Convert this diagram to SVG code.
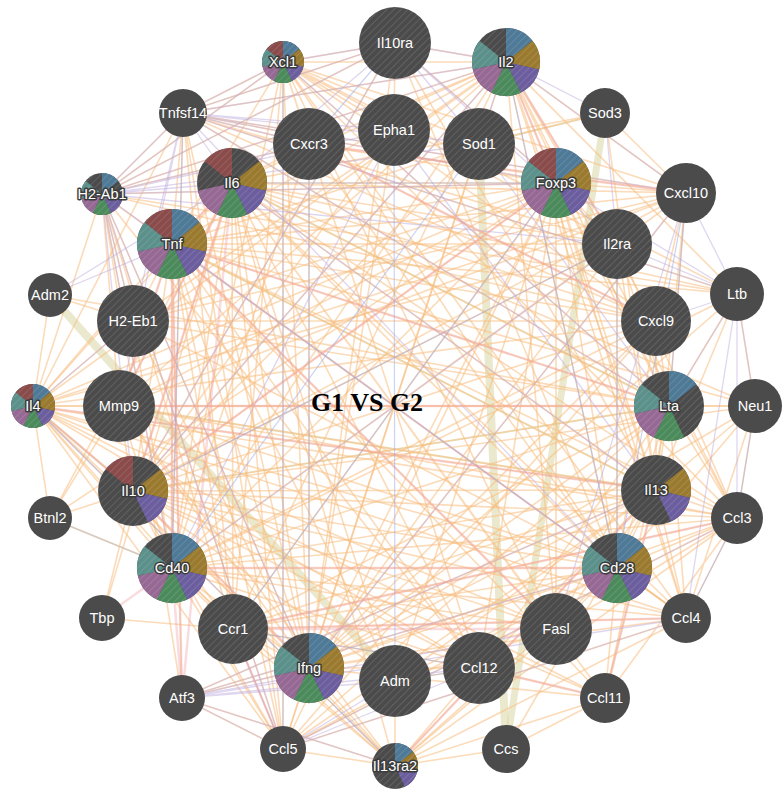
<svg xmlns="http://www.w3.org/2000/svg" xmlns:xlink="http://www.w3.org/1999/xlink" width="783" height="789" viewBox="0 0 783 789">
<style>
.n{fill:#4b4b4b}
.h{fill:url(#hatch)}
.c0{fill:#4f7a97}.c1{fill:#9a7a2e}.c2{fill:#6b5d9e}.c3{fill:#4b8a5b}.c4{fill:#966995}.c5{fill:#5c908b}.c6{fill:#8a4b4b}
.t{font-family:"Liberation Sans",Arial,sans-serif;font-size:14.5px;fill:#fff;text-anchor:middle}
.lp{stroke:#3c3c3c;stroke-width:3px;paint-order:stroke;stroke-linejoin:round}
.e{fill:none;stroke-linecap:round}
.o{stroke:#f7bd80;stroke-opacity:.55;stroke-width:1.6}
.p{stroke:#bfaee0;stroke-opacity:.5;stroke-width:1.3}
.k{stroke:#ef9ca4;stroke-opacity:.35;stroke-width:2.5}
.b{stroke:#9aa8ea;stroke-opacity:.5;stroke-width:1.2}
.y{stroke:#d8d39b;stroke-opacity:.5}
.g{stroke:#c4c4c4;stroke-opacity:.7;stroke-width:1.4}
</style>
<defs>
<pattern id="hatch" width="5" height="5" patternUnits="userSpaceOnUse" patternTransform="rotate(45)">
<line x1="0" y1="0" x2="0" y2="5" stroke="#ffffff" stroke-opacity=".24" stroke-width="1"/>
</pattern>
<path id="s0" d="M0 0L0 -1A1 1 0 0 1 0.78183 -0.62349Z"/>
<path id="s1" d="M0 0L0.78183 -0.62349A1 1 0 0 1 0.97493 0.22252Z"/>
<path id="s2" d="M0 0L0.97493 0.22252A1 1 0 0 1 0.43388 0.90097Z"/>
<path id="s3" d="M0 0L0.43388 0.90097A1 1 0 0 1 -0.43388 0.90097Z"/>
<path id="s4" d="M0 0L-0.43388 0.90097A1 1 0 0 1 -0.97493 0.22252Z"/>
<path id="s5" d="M0 0L-0.97493 0.22252A1 1 0 0 1 -0.78183 -0.62349Z"/>
<path id="s6" d="M0 0L-0.78183 -0.62349A1 1 0 0 1 0 -1Z"/>
</defs>
<rect width="783" height="789" fill="#ffffff"/>
<g id="connectors" class="e">
<path class="y" stroke-width="8" d="M50 295L395 681M479 144L506 749"/>
<path class="y" stroke-width="7" d="M605 113L506 749"/>
<path class="y" stroke-width="2" d="M479 144L605 113M33 406L133 491M119 406L656 490M232 183L669 406M133 491L669 406M172 244L656 490"/>
<path class="o" d="M172 244L232 183M172 244L506 62M172 244L556 183M172 244L309 668M172 244L133 491M172 244L172 568M172 244L617 568M172 244L669 406M172 244L33 406M172 244L656 490M172 244L737 294M172 244L656 321M172 244L686 193M172 244L737 518M172 244L686 618M172 244L283 749M172 244L479 668M172 244L556 629M172 244L119 406M172 244L617 244M172 244L233 629M172 244L133 321M172 244L183 113M172 244L182 698M172 244L479 144M172 244L605 698M172 244L755 406M172 244L395 681M172 244L283 62"/>
<path class="o" d="M232 183L506 62M232 183L556 183M232 183L309 668M232 183L133 491M232 183L172 568M232 183L617 568M232 183L669 406M232 183L33 406M232 183L656 490M232 183L737 518M232 183L686 618M232 183L283 749M232 183L656 321M232 183L686 193M232 183L119 406M232 183L605 698M232 183L395 681M232 183L395 766M232 183L233 629M232 183L556 629M232 183L605 113M232 183L617 244M232 183L479 668M232 183L737 294M232 183L755 406M232 183L50 518M232 183L102 618M232 183L309 144"/>
<path class="o" d="M506 62L556 183M506 62L309 668M506 62L133 491M506 62L172 568M506 62L617 568M506 62L33 406M506 62L656 490M506 62L617 244M506 62L669 406M506 62L556 629M506 62L309 144M506 62L283 62M506 62L183 113M506 62L102 194M506 62L283 749M506 62L233 629M506 62L686 618M506 62L737 518M506 62L656 321M506 62L395 43M506 62L119 406M506 62L686 193M506 62L133 321M506 62L737 294"/>
<path class="o" d="M556 183L309 668M556 183L133 491M556 183L172 568M556 183L617 568M556 183L33 406M556 183L656 490M556 183L617 244M556 183L669 406M556 183L556 629M556 183L309 144M556 183L233 629M556 183L102 194M556 183L183 113M556 183L283 749M556 183L119 406M556 183L133 321M556 183L395 43M556 183L50 518M556 183L737 518M556 183L686 618M556 183L686 193M556 183L479 668M556 183L395 681"/>
<path class="o" d="M309 668L133 491M309 668L172 568M309 668L617 568M309 668L669 406M309 668L33 406M309 668L656 490M309 668L656 321M309 668L686 193M309 668L737 518M309 668L686 618M309 668L283 749M309 668L479 668M309 668L233 629M309 668L309 144M309 668L556 629M309 668L283 62M309 668L102 194M309 668L133 321M309 668L617 244M309 668L737 294M309 668L755 406M309 668L183 113M309 668L395 766M309 668L119 406M309 668L182 698M309 668L395 43M309 668L479 144M309 668L394 130M309 668L605 698"/>
<path class="o" d="M133 491L172 568M133 491L617 568M133 491L669 406M133 491L33 406M133 491L656 490M133 491L737 518M133 491L686 618M133 491L283 749M133 491L656 321M133 491L686 193M133 491L617 244M133 491L556 629M133 491L119 406M133 491L50 518M133 491L102 618M133 491L479 668M133 491L605 698M133 491L395 43M133 491L395 766M133 491L395 681M133 491L755 406M133 491L233 629M133 491L479 144M133 491L394 130"/>
<path class="o" d="M172 568L617 568M172 568L669 406M172 568L33 406M172 568L656 490M172 568L556 629M172 568L283 749M172 568L737 518M172 568L686 618M172 568L686 193M172 568L617 244M172 568L102 194M172 568L133 321M172 568L183 113M172 568L737 294M172 568L283 62M172 568L233 629M172 568L479 668M172 568L50 518M172 568L119 406M172 568L656 321M172 568L309 144M172 568L395 766"/>
<path class="o" d="M617 568L669 406M617 568L33 406M617 568L656 490M617 568L556 629M617 568L617 244M617 568L283 62M617 568L283 749M617 568L737 518M617 568L133 321M617 568L309 144M617 568L233 629M617 568L395 766M617 568L605 698M617 568L395 43M617 568L119 406M617 568L686 618M617 568L656 321M617 568L755 406M617 568L395 681M617 568L182 698"/>
<path class="o" d="M669 406L33 406M669 406L656 490M669 406L737 294M669 406L183 113M669 406L755 406M669 406L737 518M669 406L686 618M669 406L283 749M669 406L656 321M669 406L686 193M669 406L556 629M669 406L479 668M669 406L133 321M669 406L233 629M669 406L50 295M669 406L617 244M669 406L283 62M669 406L605 698"/>
<path class="o" d="M33 406L656 490M33 406L395 766M33 406L605 698M33 406L479 668M33 406L283 749M33 406L686 193M33 406L556 629M33 406L102 194M33 406L133 321M33 406L119 406M33 406L233 629M33 406L737 518M33 406L686 618M33 406L617 244M33 406L50 518M33 406L50 295M33 406L183 113M33 406L755 406M33 406L656 321"/>
<path class="o" d="M656 490L395 766M656 490L605 698M656 490L479 668M656 490L656 321M656 490L686 193M656 490L737 518M656 490L686 618M656 490L283 749M656 490L119 406M656 490L556 629M656 490L233 629M656 490L755 406M656 490L617 244M656 490L395 681M656 490L506 749M656 490L395 43M656 490L605 113M656 490L737 294M656 490L182 698"/>
<path class="o" d="M283 62L737 518M283 62L686 618M283 62L283 749M283 62L656 321M283 62L686 193M283 62L233 629M283 62L309 144M283 62L395 43M283 62L183 113M283 62L102 194M283 62L479 144M283 62L394 130M283 62L737 294M283 62L617 244M283 62L556 629M283 62L479 668"/>
<path class="o" d="M102 194L133 321M102 194L183 113M102 194L283 749M102 194L656 321M102 194L686 618M102 194L395 43M102 194L309 144M102 194L233 629M102 194L119 406M102 194L737 294M102 194L182 698M102 194L479 668"/>
<path class="o" d="M395 766L605 698M395 766L479 668M395 766L283 749M395 766L119 406M395 766L395 681M395 766L686 618M395 766L506 749M395 766L233 629M395 766L556 629M395 766L182 698M395 766L737 518"/>
<path class="o" d="M737 518L686 618M737 518L283 749M686 618L283 749M737 518L233 629M283 749L233 629M656 321L686 193M656 321L309 144M686 193L309 144M605 698L479 668M479 668L233 629M737 294L183 113M737 294L755 406M119 406L737 518M119 406L686 193M556 629L737 518M394 130L395 43M755 406L737 518M755 406L686 618M605 698L737 518M395 681L479 668M656 321L283 749M686 618L233 629M182 698L283 749M617 244L737 518M183 113L309 144M183 113L395 43M133 321L656 321M133 321L686 193M605 113L686 193M605 113L479 144M50 295L133 321M50 518L119 406M102 618L233 629M395 681L556 629M506 749L605 698M183 113L617 244M183 113L656 321M183 113L686 193M183 113L283 749M183 113L233 629"/>
<path class="p" d="M102 194L183 113M102 194L283 62M102 194L232 183M102 194L395 43M102 194L309 144M102 194L394 130M102 194L479 144M102 194L506 62M102 194L172 244M102 194L556 183M102 194L172 568M102 194L133 491M102 194L133 321M102 194L309 668M102 194L283 749M102 194L617 568M102 194L617 244"/>
<path class="p" d="M183 113L283 62M183 113L395 43M183 113L506 62M183 113L394 130M183 113L479 144M183 113L556 183M183 113L309 144M183 113L737 294M183 113L232 183M183 113L133 321M183 113L669 406M183 113L686 193M183 113L617 568M183 113L119 406"/>
<path class="p" d="M182 698L309 668M182 698L395 681M182 698L283 749M182 698L395 766M182 698L479 668M182 698L617 568M182 698L556 629M182 698L656 490M182 698L686 618"/>
<path class="p" d="M737 294L686 193M737 294L669 406M737 294L737 518M737 294L686 618M737 294L617 244M737 294L755 406M737 294L656 321M737 294L556 183"/>
<path class="p" d="M395 43L506 62M395 43L479 144M395 43L556 183M395 43L617 244M395 43L133 491M395 43L232 183M395 43L283 62M283 749L233 629M283 749L737 518M283 749L686 618M283 749L479 668M283 749L395 681"/>
<path class="p" d="M50 295L232 183M50 295L172 244M506 62L605 113M506 62L686 193M506 62L479 144M232 183L656 490M172 244L617 568M133 491L506 62M309 668L686 193M172 568L617 244M33 406L133 321M283 62L669 406M686 193L556 629M605 113L617 244M479 144L669 406M394 130L656 490M394 130L172 568"/>
<path class="k" stroke-width="5" d="M119 406L669 406"/>
<path class="k" stroke-width="8" d="M102 618L172 568"/>
<path class="k" stroke-width="6" d="M182 698L172 568"/>
<path class="k" d="M182 698L232 183M182 698L172 244M232 183L172 244M133 491L33 406M172 244L669 406M232 183L133 491M506 62L617 244M506 62L556 183M309 668L133 491M172 568L617 568M656 490L395 766M33 406L656 490M233 629L737 518M233 629L283 749M605 698L479 668M556 629L172 244M309 144L656 321M309 144L686 193M233 629L556 629M232 183L119 406M172 244L119 406M233 629L686 618M172 244L172 568M556 183L133 491M656 490L605 698"/>
<path class="b" d="M395 43L309 144M395 681L479 668M232 183L556 183M506 62L617 568M309 668L309 144M669 406L686 193M737 518L686 618M283 62L283 749M133 491L617 244M172 568L183 113M479 668L233 629M33 406L395 766M617 244L617 568M755 406L737 518M394 130L395 681M479 144L172 568M556 183L233 629M686 193L617 568"/>
<path class="g" d="M50 518L172 568"/>
</g>
<g id="Il10ra" transform="translate(395 43)"><circle r="36" class="n"/><circle r="36" class="h"/><text class="t" y="5">Il10ra</text></g>
<g id="Xcl1" transform="translate(283 62)"><circle r="21" class="n"/><g transform="scale(21)"><use href="#s0" class="c0"/><use href="#s1" class="c1"/><use href="#s2" class="c2"/><use href="#s3" class="c3"/><use href="#s4" class="c4"/><use href="#s5" class="c5"/><use href="#s6" class="c6"/></g><circle r="21" class="h"/><text class="t lp" y="5">Xcl1</text></g>
<g id="Il2" transform="translate(506 62)"><circle r="34" class="n"/><g transform="scale(34)"><use href="#s0" class="c0"/><use href="#s1" class="c1"/><use href="#s2" class="c2"/><use href="#s3" class="c3"/><use href="#s4" class="c4"/><use href="#s5" class="c5"/></g><circle r="34" class="h"/><text class="t lp" y="5">Il2</text></g>
<g id="Epha1" transform="translate(394 130)"><circle r="36" class="n"/><circle r="36" class="h"/><text class="t" y="5">Epha1</text></g>
<g id="Cxcr3" transform="translate(309 144)"><circle r="36" class="n"/><circle r="36" class="h"/><text class="t" y="5">Cxcr3</text></g>
<g id="Sod1" transform="translate(479 144)"><circle r="36" class="n"/><circle r="36" class="h"/><text class="t" y="5">Sod1</text></g>
<g id="Sod3" transform="translate(605 113)"><circle r="25" class="n"/><text class="t" y="5">Sod3</text></g>
<g id="Tnfsf14" transform="translate(183 113)"><circle r="24" class="n"/><text class="t" y="5">Tnfsf14</text></g>
<g id="H2-Ab1" transform="translate(102 194)"><circle r="21" class="n"/><g transform="scale(21)"><use href="#s0" class="c0"/><use href="#s2" class="c2"/><use href="#s3" class="c3"/><use href="#s4" class="c4"/><use href="#s5" class="c5"/></g><circle r="21" class="h"/><text class="t lp" y="5">H2-Ab1</text></g>
<g id="Il6" transform="translate(232 183)"><circle r="35" class="n"/><g transform="scale(35)"><use href="#s1" class="c1"/><use href="#s2" class="c2"/><use href="#s3" class="c3"/><use href="#s4" class="c4"/><use href="#s6" class="c6"/></g><circle r="35" class="h"/><text class="t lp" y="5">Il6</text></g>
<g id="Tnf" transform="translate(172 244)"><circle r="35" class="n"/><g transform="scale(35)"><use href="#s0" class="c0"/><use href="#s1" class="c1"/><use href="#s2" class="c2"/><use href="#s3" class="c3"/><use href="#s4" class="c4"/><use href="#s5" class="c5"/><use href="#s6" class="c6"/></g><circle r="35" class="h"/><text class="t lp" y="5">Tnf</text></g>
<g id="Adm2" transform="translate(50 295)"><circle r="22" class="n"/><text class="t" y="5">Adm2</text></g>
<g id="H2-Eb1" transform="translate(133 321)"><circle r="36" class="n"/><circle r="36" class="h"/><text class="t" y="5">H2-Eb1</text></g>
<g id="Foxp3" transform="translate(556 183)"><circle r="35" class="n"/><g transform="scale(35)"><use href="#s0" class="c0"/><use href="#s1" class="c1"/><use href="#s2" class="c2"/><use href="#s3" class="c3"/><use href="#s4" class="c4"/><use href="#s5" class="c5"/><use href="#s6" class="c6"/></g><circle r="35" class="h"/><text class="t lp" y="5">Foxp3</text></g>
<g id="Cxcl10" transform="translate(686 193)"><circle r="30" class="n"/><text class="t" y="5">Cxcl10</text></g>
<g id="Il2ra" transform="translate(617 244)"><circle r="35" class="n"/><circle r="35" class="h"/><text class="t" y="5">Il2ra</text></g>
<g id="Ltb" transform="translate(737 294)"><circle r="27" class="n"/><text class="t" y="5">Ltb</text></g>
<g id="Cxcl9" transform="translate(656 321)"><circle r="35" class="n"/><circle r="35" class="h"/><text class="t" y="5">Cxcl9</text></g>
<g id="Lta" transform="translate(669 406)"><circle r="35" class="n"/><g transform="scale(35)"><use href="#s0" class="c0"/><use href="#s3" class="c3"/><use href="#s4" class="c4"/><use href="#s5" class="c5"/></g><circle r="35" class="h"/><text class="t lp" y="5">Lta</text></g>
<g id="Neu1" transform="translate(755 406)"><circle r="27" class="n"/><text class="t" y="5">Neu1</text></g>
<g id="Il13" transform="translate(656 490)"><circle r="35" class="n"/><g transform="scale(35)"><use href="#s1" class="c1"/><use href="#s2" class="c2"/></g><circle r="35" class="h"/><text class="t lp" y="5">Il13</text></g>
<g id="Ccl3" transform="translate(737 518)"><circle r="26" class="n"/><text class="t" y="5">Ccl3</text></g>
<g id="Cd28" transform="translate(617 568)"><circle r="35" class="n"/><g transform="scale(35)"><use href="#s0" class="c0"/><use href="#s1" class="c1"/><use href="#s2" class="c2"/><use href="#s3" class="c3"/><use href="#s4" class="c4"/><use href="#s5" class="c5"/></g><circle r="35" class="h"/><text class="t lp" y="5">Cd28</text></g>
<g id="Ccl4" transform="translate(686 618)"><circle r="25" class="n"/><text class="t" y="5">Ccl4</text></g>
<g id="Fasl" transform="translate(556 629)"><circle r="36" class="n"/><circle r="36" class="h"/><text class="t" y="5">Fasl</text></g>
<g id="Ccl11" transform="translate(605 698)"><circle r="25" class="n"/><text class="t" y="5">Ccl11</text></g>
<g id="Ccs" transform="translate(506 749)"><circle r="24" class="n"/><text class="t" y="5">Ccs</text></g>
<g id="Ccl12" transform="translate(479 668)"><circle r="36" class="n"/><circle r="36" class="h"/><text class="t" y="5">Ccl12</text></g>
<g id="Adm" transform="translate(395 681)"><circle r="36" class="n"/><circle r="36" class="h"/><text class="t" y="5">Adm</text></g>
<g id="Il13ra2" transform="translate(395 766)"><circle r="23" class="n"/><g transform="scale(23)"><use href="#s0" class="c0"/><use href="#s1" class="c1"/><use href="#s2" class="c2"/></g><circle r="23" class="h"/><text class="t lp" y="5">Il13ra2</text></g>
<g id="Ifng" transform="translate(309 668)"><circle r="35" class="n"/><g transform="scale(35)"><use href="#s0" class="c0"/><use href="#s1" class="c1"/><use href="#s2" class="c2"/><use href="#s3" class="c3"/><use href="#s4" class="c4"/><use href="#s5" class="c5"/></g><circle r="35" class="h"/><text class="t lp" y="5">Ifng</text></g>
<g id="Ccl5" transform="translate(283 749)"><circle r="23" class="n"/><text class="t" y="5">Ccl5</text></g>
<g id="Atf3" transform="translate(182 698)"><circle r="23" class="n"/><text class="t" y="5">Atf3</text></g>
<g id="Ccr1" transform="translate(233 629)"><circle r="35" class="n"/><circle r="35" class="h"/><text class="t" y="5">Ccr1</text></g>
<g id="Tbp" transform="translate(102 618)"><circle r="23" class="n"/><text class="t" y="5">Tbp</text></g>
<g id="Cd40" transform="translate(172 568)"><circle r="35" class="n"/><g transform="scale(35)"><use href="#s0" class="c0"/><use href="#s1" class="c1"/><use href="#s2" class="c2"/><use href="#s3" class="c3"/><use href="#s4" class="c4"/><use href="#s5" class="c5"/></g><circle r="35" class="h"/><text class="t lp" y="5">Cd40</text></g>
<g id="Btnl2" transform="translate(50 518)"><circle r="22" class="n"/><text class="t" y="5">Btnl2</text></g>
<g id="Il10" transform="translate(133 491)"><circle r="35" class="n"/><g transform="scale(35)"><use href="#s1" class="c1"/><use href="#s2" class="c2"/><use href="#s6" class="c6"/></g><circle r="35" class="h"/><text class="t lp" y="5">Il10</text></g>
<g id="Mmp9" transform="translate(119 406)"><circle r="36" class="n"/><circle r="36" class="h"/><text class="t" y="5">Mmp9</text></g>
<g id="Il4" transform="translate(33 406)"><circle r="22" class="n"/><g transform="scale(22)"><use href="#s0" class="c0"/><use href="#s1" class="c1"/><use href="#s2" class="c2"/><use href="#s3" class="c3"/><use href="#s4" class="c4"/><use href="#s5" class="c5"/><use href="#s6" class="c6"/></g><circle r="22" class="h"/><text class="t lp" y="5">Il4</text></g>
<text id="title" x="367" y="411" font-family="'Liberation Serif','Times New Roman',serif" font-weight="bold" font-size="26" text-anchor="middle" fill="#000">G1 VS G2</text>
</svg>
